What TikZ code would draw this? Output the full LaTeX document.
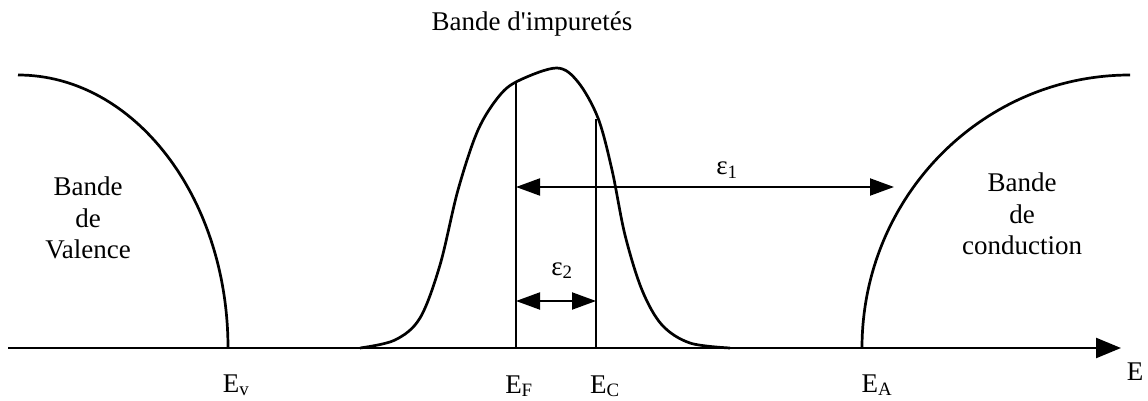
\documentclass[tikz,border=0pt]{standalone}
\usepackage{fontspec}
\setmainfont{Liberation Serif}
\usetikzlibrary{arrows.meta}
\tikzset{
  curve/.style={line width=2.7pt, line join=round},
  vline/.style={line width=2.4pt},
  dim/.style={line width=2pt, {Triangle[length=24pt,width=17pt]}-{Triangle[length=24pt,width=17pt]}},
  lbl/.style={font=\fontsize{27}{31.5}\selectfont, inner sep=0pt, align=center},
}
\begin{document}
\begin{tikzpicture}[x=1pt,y=-1pt]
\useasboundingbox (0,0) rectangle (1148,401);
% axis
\coordinate (a0) at (8,348);
\coordinate (a1) at (1121,348);
\draw[line width=2.4pt, -{Triangle[length=25pt,width=20pt]}] (a0) -- (a1);
% valence band
\draw[curve] (18,75) arc[start angle=-90, end angle=0, x radius=210, y radius=273];
% conduction band
\draw[curve] (862,348) arc[start angle=180, end angle=270, x radius=268, y radius=273];
% impurity band
\draw[curve] plot[smooth, tension=0.55] coordinates {(360,348) (395,340) (420,318) (440,265) (458,190) (478,130) (500,95) (520,80) (557,68) (578,82) (598,118) (612,170) (625,235) (642,290) (662,325) (690,343) (730,348)};
% vertical lines
\coordinate (ef0) at (516,348); \coordinate (ef1) at (516,83);
\coordinate (ec0) at (596,348); \coordinate (ec1) at (596,119);
\draw[vline] (ef0) -- (ef1);
\draw[vline] (ec0) -- (ec1);
% dimension arrows
\coordinate (e1a) at (516,187); \coordinate (e1b) at (894,187);
\draw[dim] (e1a) -- (e1b);
\coordinate (e2a) at (516,301); \coordinate (e2b) at (596,301);
\draw[dim] (e2a) -- (e2b);
% labels
\node[lbl, anchor=base] (t) at (532,31) {Bande d\textquotesingle impuretés};
\node[lbl, anchor=base] (eps1) at (727,175) {ε\textsubscript{1}};
\node[lbl, anchor=base] (eps2) at (562,275) {ε\textsubscript{2}};
\node[lbl] (val) at (88,218) {Bande\\de\\Valence};
\node[lbl] (cond) at (1022,214) {Bande\\de\\conduction};
\node[lbl, anchor=base] (ev) at (236,392) {E\textsubscript{v}};
\node[lbl, anchor=base] (ef) at (519,393) {E\textsubscript{F}};
\node[lbl, anchor=base] (ec) at (605,393) {E\textsubscript{C}};
\node[lbl, anchor=base] (ea) at (877,392) {E\textsubscript{A}};
\node[lbl, anchor=base] (e) at (1135,380) {E};
\end{tikzpicture}
\end{document}
